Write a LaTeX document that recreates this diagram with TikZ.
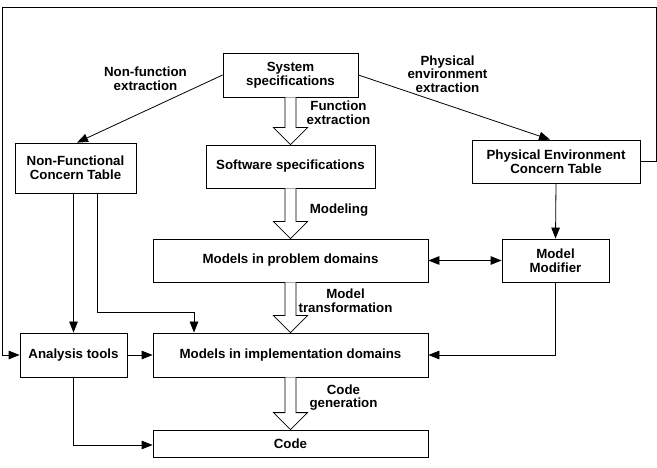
\documentclass[tikz,border=0pt]{standalone}
\usepackage{fontspec}
\setmainfont{Liberation Sans}
\usetikzlibrary{arrows.meta,calc}
\newcommand\hollowarr[2]{%
  \draw[line width=0.8pt,fill=white,line join=miter]
    ($(#1.south)+(-5.5,0)$) -- ($(#2.north)+(-5.5,-17)$) -- ($(#2.north)+(-17,-17)$)
    -- (#2.north) -- ($(#2.north)+(17,-17)$) -- ($(#2.north)+(5.5,-17)$) -- ($(#1.south)+(5.5,0)$);}
\begin{document}
\begin{tikzpicture}[x=1pt,y=-1pt,
  every node/.style={font=\fontsize{13.3}{13.6}\selectfont\bfseries, align=center},
  box/.style={draw, line width=0.8pt, inner sep=0pt, minimum width=#1, fill=white},
  lbl/.style={inner sep=0pt},
  arr/.style={line width=0.8pt, -{Triangle[length=11pt,width=8.5pt]}},
  arrb/.style={line width=0.8pt, {Triangle[length=11pt,width=8.5pt]}-{Triangle[length=11pt,width=8.5pt]}}]
\useasboundingbox (0,0) rectangle (657,468);

\node[box=135pt, minimum height=44pt] (sys) at (290.5,75) {System\\specifications};
\node[box=121pt, minimum height=50pt] (nfct) at (75.5,168) {Non-Functional\\Concern Table};
\node[box=169pt, minimum height=43pt] (soft) at (290.5,166.5) {Software specifications};
\node[box=168pt, minimum height=43pt] (pect) at (556,161.5) {Physical Environment\\Concern Table};
\node[box=275pt, minimum height=43pt] (mpd) at (290.5,260.5) {Models in problem domains};
\node[box=107pt, minimum height=43pt] (mm) at (555.5,260.5) {Model\\Modifier};
\node[box=107pt, minimum height=44pt] (at) at (73.5,355) {Analysis tools};
\node[box=275pt, minimum height=44pt] (mid) at (290.5,355) {Models in implementation domains};
\node[box=275pt, minimum height=27pt] (code) at (290.5,443.5) {Code};

\node[lbl] (l1) at (145.5,79) {Non-function\\extraction};
\node[lbl] (l2) at (447.5,74) {Physical\\environment\\extraction};
\node[lbl] (l3) at (338.5,112.5) {Function\\extraction};
\node[lbl] (l4) at (339,210) {Modeling};
\node[lbl] (l5) at (345.5,301) {Model\\transformation};
\node[lbl] (l6) at (343.5,397.5) {Code\\generation};

\hollowarr{sys}{soft}
\hollowarr{soft}{mpd}
\hollowarr{mpd}{mid}
\hollowarr{mid}{code}

\draw[arr] (sys.west) -- ([xshift=1.5pt]nfct.north);
\draw[arr] (sys.east) -- ([xshift=-6pt]pect.north);

\coordinate (fbR) at (656,7);
\coordinate (fbL) at (2,7);
\draw[line width=0.8pt] (pect.east) -| (fbR) -- (fbL);
\draw[arr] (fbL) |- (at.west);

\draw[arr] (nfct.south -| at.north) -- (at.north);
\coordinate (k) at (194,312);
\draw[arr] ([xshift=21.5pt]nfct.south) |- (k) -- (k |- mid.north);

\draw[arr] (at.east) -- (mid.west);
\draw[arr] (at.south) |- ([yshift=-1.5pt]code.west);
\draw[arr] (pect.south) -- (mm.north);
\draw[arrb] (mpd.east) -- (mm.west);
\draw[arr] (mm.south) |- (mid.east);
\end{tikzpicture}
\end{document}
